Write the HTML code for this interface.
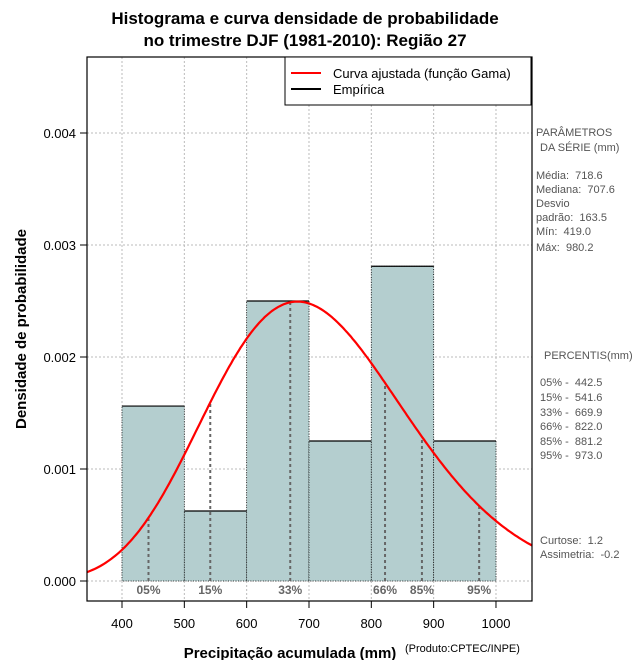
<!DOCTYPE html>
<html><head><meta charset="utf-8"><style>
body{margin:0;background:#fff}
svg text{font-family:"Liberation Sans",sans-serif;white-space:pre}
</style></head><body>
<svg id="c" width="640" height="660" xmlns="http://www.w3.org/2000/svg">
<text x="305" y="24" text-anchor="middle" font-size="17" font-weight="bold">Histograma e curva densidade de probabilidade</text>
<text x="305" y="46" text-anchor="middle" font-size="17" font-weight="bold">no trimestre DJF (1981-2010): Região 27</text>
<g id="grid"></g><g id="bars"></g><g id="pct"></g><g id="curve"></g><g id="axes"></g>
<rect x="87" y="57" width="445" height="544" fill="none" stroke="#000" stroke-width="1.2"/>
<g>
<rect x="285" y="57" width="246" height="48" fill="#fff" stroke="#000"/>
<line x1="291" y1="73" x2="321" y2="73" stroke="red" stroke-width="2"/>
<text x="333" y="78" font-size="13">Curva ajustada (função Gama)</text>
<line x1="291" y1="89" x2="321" y2="89" stroke="#000" stroke-width="2"/>
<text x="333" y="94" font-size="13">Empírica</text>
</g>
<text transform="translate(26,329) rotate(-90)" text-anchor="middle" font-size="15" font-weight="bold">Densidade de probabilidade</text>
<text x="290" y="658" text-anchor="middle" font-size="15" font-weight="bold">Precipitação acumulada (mm)</text>
<text x="405" y="652" font-size="11">(Produto:CPTEC/INPE)</text>
<g font-size="11" fill="#555">
<text x="536" y="136">PARÂMETROS</text><text x="540" y="151">DA SÉRIE (mm)</text>
<text x="536" y="179">Média:  718.6</text><text x="536" y="193">Mediana:  707.6</text>
<text x="536" y="207">Desvio</text><text x="536" y="221">padrão:  163.5</text>
<text x="536" y="235">Mín:  419.0</text><text x="536" y="251">Máx:  980.2</text>
<text x="544" y="359">PERCENTIS(mm)</text>
<text x="540" y="386">05% -  442.5</text><text x="540" y="401">15% -  541.6</text>
<text x="540" y="416">33% -  669.9</text><text x="540" y="430">66% -  822.0</text>
<text x="540" y="445">85% -  881.2</text><text x="540" y="459">95% -  973.0</text>
<text x="540" y="544">Curtose:  1.2</text><text x="540" y="558">Assimetria:  -0.2</text>
</g>
</svg>
<script>
const binStarts=[400,500,600,700,800,900];
const densities=[0.001562,0.000625,0.0025,0.00125,0.00281,0.00125];
const xTicks=[400,500,600,700,800,900,1000];
const yTicks=[0,0.001,0.002,0.003,0.004];
const yTickLabels=["0.000","0.001","0.002","0.003","0.004"];
const pctNames=["05%","15%","33%","66%","85%","95%"];
const pctValues=[442.5,541.6,669.9,822.0,881.2,973.0];
const gammaMean=[718.6];
const gammaSd=[163.5];
const NS="http://www.w3.org/2000/svg";
const X=v=>122+(v-400)*0.6233, Y=v=>581-v*112000;
function mk(t,a,p){const e=document.createElementNS(NS,t);for(const k in a)e.setAttribute(k,a[k]);p.appendChild(e);return e;}
function lgam(z){const g=[76.18009172947146,-86.50532032941677,24.01409824083091,-1.231739572450155,0.1208650973866179e-2,-0.5395239384953e-5];let x=z,y=z,t=x+5.5;t-=(x+0.5)*Math.log(t);let s=1.000000000190015;for(let j=0;j<6;j++)s+=g[j]/++y;return -t+Math.log(2.5066282746310005*s/x);}
const k=Math.pow(gammaMean[0]/gammaSd[0],2), th=gammaSd[0]*gammaSd[0]/gammaMean[0];
const pdf=x=>Math.exp((k-1)*Math.log(x)-x/th-lgam(k)-k*Math.log(th));
const grid=document.getElementById('grid'),bars=document.getElementById('bars'),pct=document.getElementById('pct'),cur=document.getElementById('curve'),ax=document.getElementById('axes');
xTicks.forEach(v=>{const l=mk('line',{x1:X(v),x2:X(v),y1:57,y2:601,stroke:'#bbb','stroke-dasharray':'2,2'},grid);


const t=mk('line',{x1:X(v),x2:X(v),y1:601,y2:608,stroke:'#000'},ax);
const tx=mk('text',{x:X(v),y:628,'text-anchor':'middle','font-size':13},ax);tx.textContent=v;

});
yTicks.forEach((v,i)=>{const l=mk('line',{x1:87,x2:532,y1:Y(v),y2:Y(v),stroke:'#bbb','stroke-dasharray':'2,2'},grid);


mk('line',{x1:80,x2:87,y1:Y(v),y2:Y(v),stroke:'#000'},ax);
const tx=mk('text',{x:76,y:Y(v)+5,'text-anchor':'end','font-size':13},ax);tx.textContent=yTickLabels[i];

});
binStarts.forEach((b,i)=>{const x0=X(b),x1=X(b+100),y=Y(densities[i]);
const r=mk('rect',{x:x0,y:y,width:x1-x0,height:Y(0)-y,fill:'#b4cecf',stroke:'#000','stroke-dasharray':'1,1.5','stroke-width':0.8},bars);


mk('line',{x1:x0,x2:x1,y1:y,y2:y,stroke:'#000','stroke-width':1.2},bars);});
pctValues.forEach((v,i)=>{const l=mk('line',{x1:X(v),x2:X(v),y1:Y(0),y2:Y(pdf(v)),stroke:'#666','stroke-width':2,'stroke-dasharray':'3,3'},pct);


const t=mk('text',{x:X(v),y:594,'text-anchor':'middle','font-size':12,'font-weight':'bold',fill:'#666'},pct);t.textContent=pctNames[i];

});
let d='';for(let x=344;x<=1058;x+=3){d+=(d?'L':'M')+X(x).toFixed(1)+','+Y(pdf(x)).toFixed(1);}
const p=mk('path',{d:d,fill:'none',stroke:'red','stroke-width':2.2},cur);


</script>
</body></html>
